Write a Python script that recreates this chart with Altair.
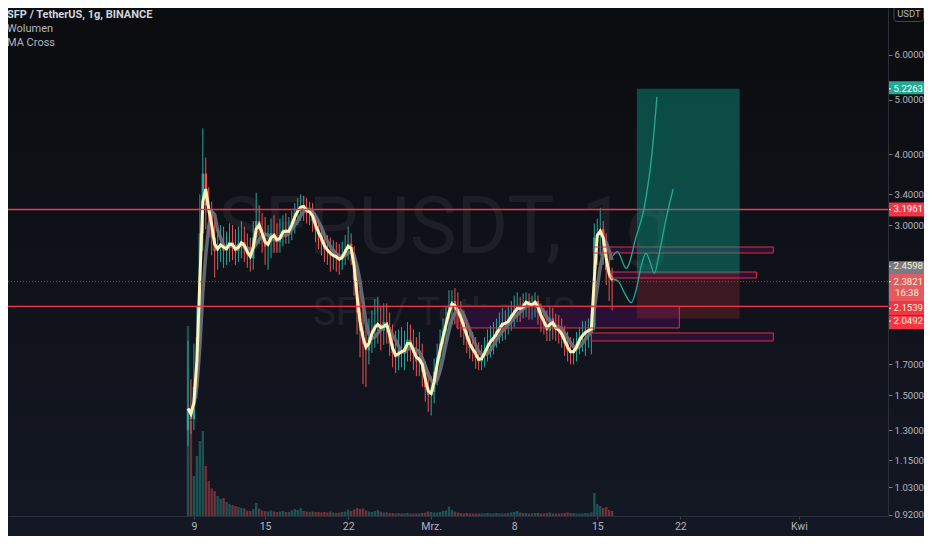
import altair as alt
import pandas as pd

# ---------------- data (6-hour candles, SFP/USDT, Binance) ----------------
candle_start = "2021-02-08 12:00"
first_open = 1.30
close = [1.42, 1.36, 1.55, 1.90, 2.90, 3.70, 3.25, 3.15, 2.85, 2.70,
         2.75, 2.78, 2.70, 2.75, 2.80, 2.74, 2.70, 2.78, 2.80, 2.72,
         2.66, 2.62, 2.85, 3.05, 2.95, 2.85, 2.75, 2.80, 2.90, 2.85,
         2.80, 2.88, 2.95, 2.90, 2.95, 3.05, 3.15, 3.20, 3.25, 3.22,
         3.15, 3.18, 3.05, 2.95, 2.88, 2.80, 2.72, 2.70, 2.65, 2.65,
         2.62, 2.60, 2.66, 2.72, 2.78, 2.68, 2.40, 2.10, 1.95, 1.85,
         1.80, 1.90, 1.95, 2.00, 2.00, 1.95, 2.02, 1.98, 1.85, 1.78,
         1.75, 1.80, 1.78, 1.82, 1.88, 1.82, 1.78, 1.72, 1.75, 1.65,
         1.55, 1.50, 1.52, 1.65, 1.75, 1.85, 1.95, 2.05, 2.15, 2.20,
         2.12, 2.10, 2.02, 1.95, 1.88, 1.82, 1.80, 1.75, 1.72, 1.76,
         1.80, 1.85, 1.88, 1.90, 1.95, 1.98, 2.02, 2.00, 2.05, 2.08,
         2.12, 2.15, 2.12, 2.18, 2.20, 2.15, 2.18, 2.20, 2.10, 2.05,
         2.00, 1.95, 2.05, 1.98, 1.96, 1.95, 1.90, 1.85, 1.80, 1.78,
         1.80, 1.85, 1.90, 1.92, 1.95, 1.95, 1.98, 2.85, 2.90, 2.95,
         2.75, 2.50, 2.42, 2.3821]
high = [1.87, 1.60, 1.85, 2.15, 3.40, 4.45, 3.95, 3.50, 3.30, 3.05,
        2.95, 3.00, 2.98, 2.92, 3.02, 3.00, 2.95, 2.98, 3.05, 2.98,
        2.90, 2.85, 3.05, 3.42, 3.25, 3.15, 3.10, 3.00, 3.08, 3.12,
        3.02, 3.08, 3.12, 3.15, 3.10, 3.18, 3.28, 3.35, 3.40, 3.38,
        3.35, 3.30, 3.28, 3.15, 3.05, 2.98, 2.92, 2.88, 2.85, 2.82,
        2.80, 2.78, 2.80, 2.88, 2.98, 2.90, 2.75, 2.50, 2.30, 2.20,
        2.00, 2.05, 2.12, 2.22, 2.24, 2.15, 2.18, 2.18, 2.10, 2.00,
        1.95, 1.96, 1.98, 1.95, 2.02, 2.00, 1.96, 1.90, 1.94, 1.85,
        1.72, 1.65, 1.62, 1.74, 1.85, 1.96, 2.05, 2.15, 2.30, 2.30,
        2.32, 2.28, 2.20, 2.12, 2.04, 1.98, 1.94, 1.90, 1.86, 1.84,
        1.90, 1.96, 1.99, 2.02, 2.05, 2.10, 2.14, 2.12, 2.16, 2.20,
        2.25, 2.28, 2.24, 2.27, 2.28, 2.27, 2.25, 2.28, 2.25, 2.18,
        2.14, 2.12, 2.15, 2.14, 2.09, 2.08, 2.05, 1.99, 1.94, 1.90,
        1.89, 1.94, 1.98, 2.03, 2.03, 2.05, 2.08, 3.02, 3.08, 3.22,
        3.05, 2.90, 2.65, 2.52]
low = [1.22, 1.28, 1.30, 1.48, 1.80, 2.70, 2.95, 2.85, 2.65, 2.42,
       2.50, 2.58, 2.52, 2.55, 2.58, 2.60, 2.55, 2.58, 2.62, 2.58,
       2.52, 2.48, 2.50, 2.75, 2.78, 2.68, 2.55, 2.50, 2.62, 2.68,
       2.68, 2.68, 2.75, 2.78, 2.78, 2.82, 2.90, 3.00, 3.05, 3.05,
       3.02, 3.00, 2.92, 2.80, 2.72, 2.65, 2.58, 2.55, 2.48, 2.50,
       2.48, 2.45, 2.50, 2.55, 2.60, 2.55, 2.25, 1.92, 1.75, 1.57,
       1.55, 1.70, 1.78, 1.82, 1.85, 1.80, 1.84, 1.85, 1.76, 1.68,
       1.64, 1.66, 1.68, 1.66, 1.72, 1.72, 1.66, 1.62, 1.62, 1.55,
       1.46, 1.40, 1.38, 1.45, 1.56, 1.66, 1.76, 1.86, 1.96, 2.00,
       2.00, 1.96, 1.90, 1.84, 1.78, 1.74, 1.72, 1.67, 1.66, 1.66,
       1.68, 1.72, 1.75, 1.77, 1.82, 1.85, 1.87, 1.88, 1.92, 1.95,
       1.98, 2.02, 2.02, 2.05, 2.06, 2.04, 2.04, 2.06, 2.00, 1.94,
       1.92, 1.87, 1.87, 1.88, 1.87, 1.85, 1.82, 1.76, 1.72, 1.70,
       1.70, 1.72, 1.77, 1.79, 1.76, 1.82, 1.77, 1.95, 2.55, 2.65,
       2.55, 2.35, 2.20, 2.12]
volume = [38, 19, 8, 12, 15, 17, 10, 7, 5.5, 5,
          4, 3.4, 3.6, 2.8, 2.4, 2.2, 2.0, 1.8, 1.6, 1.5,
          1.1, 1.0, 1.4, 2.6, 1.5, 1.1, 1.0, 0.9, 1.1, 0.9,
          0.8, 0.9, 1.0, 0.8, 0.8, 1.1, 1.4, 1.2, 1.6, 1.0,
          0.9, 0.8, 0.9, 0.8, 0.8, 0.7, 0.8, 0.7, 0.9, 0.7,
          0.6, 0.7, 0.8, 0.9, 1.3, 1.0, 1.3, 1.6, 1.4, 1.5,
          1.1, 0.9, 0.8, 1.0, 1.2, 0.9, 0.7, 0.7, 0.6, 0.6,
          0.5, 0.6, 0.5, 0.5, 0.6, 0.5, 0.5, 0.5, 0.5, 0.6,
          0.7, 0.9, 0.8, 0.7, 0.7, 0.8, 1.0, 1.1, 1.9, 1.2,
          0.9, 0.7, 0.6, 0.5, 0.6, 0.5, 0.5, 0.5, 0.5, 0.5,
          0.5, 0.6, 0.5, 0.5, 0.6, 0.5, 0.5, 0.5, 0.6, 0.7,
          0.8, 1.0, 0.7, 0.6, 0.6, 0.5, 0.5, 0.6, 0.6, 0.5,
          0.5, 0.6, 0.7, 0.5, 0.5, 0.5, 0.5, 0.6, 0.7, 0.6,
          0.6, 0.5, 0.5, 0.5, 0.6, 0.5, 0.7, 4.6, 2.4, 2.0,
          1.6, 1.8, 1.2, 1.0]

level_lines = [3.1961, 2.1539]
last_price = 2.3821
countdown = "16:38"

# long position tool
pos_t1, pos_t2 = "2021-03-18T08:00:00", "2021-03-27T00:00:00"
pos_entry, pos_target, pos_stop = 2.4598, 5.2263, 2.0492

# rectangles
rect_t1 = ["2021-03-14T16:00:00", "2021-03-16T04:00:00", "2021-03-03T04:00:00", "2021-03-14T12:00:00"]
rect_t2 = ["2021-03-29T20:00:00", "2021-03-28T10:00:00", "2021-03-21T22:00:00", "2021-03-29T20:00:00"]
rect_top = [2.743, 2.477, 2.1539, 1.932]
rect_bot = [2.677, 2.417, 1.972, 1.870]

# forecast paths
path1_t = ["2021-03-16T08:00:00", "2021-03-16T16:36:00", "2021-03-17T10:36:00", "2021-03-18T06:36:00",
           "2021-03-18T23:24:00", "2021-03-19T16:00:00", "2021-03-20T00:36:00"]
path1_p = [2.647, 2.691, 2.515, 2.861, 3.233, 4.129, 5.062]
path2_t = ["2021-03-16T08:00:00", "2021-03-16T18:00:00", "2021-03-17T07:24:00", "2021-03-17T20:36:00",
           "2021-03-18T06:36:00", "2021-03-18T16:36:00", "2021-03-19T02:36:00", "2021-03-19T09:24:00",
           "2021-03-19T19:24:00", "2021-03-20T05:24:00", "2021-03-20T18:36:00", "2021-03-21T09:24:00"]
path2_p = [2.405, 2.388, 2.271, 2.186, 2.302, 2.532, 2.673, 2.601, 2.464, 2.673, 3.062, 3.475]

price_ticks = [0.92, 1.03, 1.15, 1.3, 1.5, 1.7, 3.0, 3.4, 4.0, 5.0, 6.0]
legend_lines = ["SFP / TetherUS, 1g, BINANCE", "Wolumen", "MA Cross"]
watermark = ["SFPUSDT, 1g", "SFP / TetherUS"]

# ---------------- tables ----------------
times = pd.date_range(candle_start, periods=len(close), freq="6h")
candles = pd.DataFrame({"t": times, "open": [first_open] + close[:-1], "high": high,
                        "low": low, "close": close, "vol": volume})
rects = pd.DataFrame({"t1": rect_t1, "t2": rect_t2, "top": rect_top, "bot": rect_bot})
paths = pd.DataFrame({
    "path": ["a"] * len(path1_t) + ["b"] * len(path2_t),
    "t": path1_t + path2_t,
    "p": path1_p + path2_p,
    "o": list(range(len(path1_t))) + list(range(len(path2_t))),
})
pos = pd.DataFrame({"t1": [pos_t1, pos_t1], "t2": [pos_t2, pos_t2],
                    "a": [pos_entry, pos_stop], "b": [pos_target, pos_entry],
                    "kind": ["profit", "loss"]})

FONT = "Roboto"
UP, DOWN = "#26a69a", "#ef5350"
W, H, PR, PB = 880, 508, 36, 20

XSCALE = alt.Scale(domain=[alt.DateTime(year=2021, month=1, date=24, hours=18),
                           alt.DateTime(year=2021, month=4, date=8, hours=2)])
XAXIS = alt.Axis(
    values=[alt.DateTime(year=2021, month=2, date=9), alt.DateTime(year=2021, month=2, date=15),
            alt.DateTime(year=2021, month=2, date=22), alt.DateTime(year=2021, month=3, date=1),
            alt.DateTime(year=2021, month=3, date=8), alt.DateTime(year=2021, month=3, date=15),
            alt.DateTime(year=2021, month=3, date=22), alt.DateTime(year=2021, month=4, date=1)],
    labelExpr="date(datum.value) == 1 ? (month(datum.value) == 2 ? 'Mrz.' : 'Kwi') : '' + date(datum.value)",
    title=None, grid=False, domainColor="#2a2e39", tickColor="#434651", tickSize=3,
    labelColor="#b2b5be", labelFont=FONT, labelFontSize=10.5, labelPadding=2,
    labelFlush=False, labelOverlap=False, labelAlign="center", zindex=1)
YSCALE = alt.Scale(type="log", domain=[0.9162, 7.267], nice=False, zero=False)
YAXIS = alt.Axis(orient="right", values=price_ticks, format=".4f", title=None, grid=False,
                 domainColor="#2a2e39", tickColor="#787b86", tickSize=4, labelPadding=2,
                 labelColor="#b2b5be", labelFont=FONT, labelFontSize=9.6, zindex=1)


def X(f):
    return alt.X(f, type="temporal", scale=XSCALE, axis=XAXIS)


def Y(f):
    return alt.Y(f, type="quantitative", scale=YSCALE, axis=YAXIS)


one = pd.DataFrame({"k": [0]})
updown = alt.condition("datum.open <= datum.close", alt.value(UP), alt.value(DOWN))

# background gradient
bg = alt.Chart(one).mark_rect(
    color=alt.Gradient(gradient="linear",
                       stops=[alt.GradientStop(color="#0b0c0f", offset=0),
                              alt.GradientStop(color="#141824", offset=1)],
                       x1=0, x2=0, y1=0, y2=1)
).encode(x=alt.value(0), x2=alt.value(W + PR), y=alt.value(0), y2=alt.value(H + PB))

wm1 = alt.Chart(one).mark_text(text=watermark[0], font=FONT, fontSize=79, color="#ffffff",
                               opacity=0.06, align="center", baseline="alphabetic"
                               ).encode(x=alt.value(436), y=alt.value(245))
wm2 = alt.Chart(one).mark_text(text=watermark[1], font=FONT, fontSize=39, color="#ffffff",
                               opacity=0.06, align="center", baseline="alphabetic"
                               ).encode(x=alt.value(436), y=alt.value(317))

vol = alt.Chart(candles).mark_bar(width=2.4, opacity=0.42).encode(
    x=X("t"), y=alt.Y("vol:Q", scale=alt.Scale(domain=[0, H / 5.0]), axis=None), color=updown)

base = alt.Chart(candles)
wick = base.mark_rule(strokeWidth=1).encode(x=X("t"), y=Y("low"), y2=alt.Y2("high"), color=updown)
body = base.mark_bar(width=2.4).encode(x=X("t"), y=Y("open"), y2=alt.Y2("close"), color=updown)

ma = base.transform_window(ma_fast="mean(close)", frame=[-1, 0], sort=[alt.SortField("t")]
                           ).transform_window(ma_slow="mean(close)", frame=[-4, 0], sort=[alt.SortField("t")])
ma_slow = ma.mark_line(color="#6e717c", strokeWidth=3.5, opacity=0.9).encode(x=X("t"), y=Y("ma_slow"))
ma_fast = ma.mark_line(color="#fff1b8", strokeWidth=3).encode(x=X("t"), y=Y("ma_fast"))

hlines = alt.Chart(pd.DataFrame({"p": level_lines})).mark_rule(color="#f23645", strokeWidth=1.3).encode(y=Y("p"))
lastline = alt.Chart(pd.DataFrame({"p": [last_price]})).mark_rule(
    color="#f23645", strokeWidth=1, strokeDash=[1, 2], opacity=0.7).encode(y=Y("p"))

box_fill = alt.Chart(rects).mark_rect(color="#2a1034", opacity=1).encode(
    x=X("t1"), x2=alt.X2("t2"), y=Y("top"), y2=alt.Y2("bot"))
box_line = alt.Chart(rects).mark_rect(fillOpacity=0, stroke="#d8323d", strokeWidth=1).encode(
    x=X("t1"), x2=alt.X2("t2"), y=Y("top"), y2=alt.Y2("bot"))

posbox = alt.Chart(pos).mark_rect().encode(
    x=X("t1"), x2=alt.X2("t2"), y=Y("a"), y2=alt.Y2("b"),
    color=alt.Color("kind:N", scale=alt.Scale(domain=["profit", "loss"], range=["#089981", "#f23645"]), legend=None),
    opacity=alt.Opacity("kind:N", scale=alt.Scale(domain=["profit", "loss"], range=[0.45, 0.2]), legend=None))

proj = alt.Chart(paths).mark_line(color="#22ab94", strokeWidth=1.3, interpolate="monotone").encode(
    x=X("t"), y=Y("p"), detail="path:N", order="o:Q")

# price-scale labels: (value, text, box colour, text colour, box offset, box height, text offset)
labels = [
    (pos_target, "5.2263", "#22ab94", "#ffffff", -1, 13, 0),
    (level_lines[0], "3.1961", "#f23645", "#ffffff", 0, 14, 0),
    (pos_entry, "2.4598", "#787b86", "#f6efc6", -6, 13, -7.5),
    (last_price, "2.3821", "#e35a60", "#fff1dc", 6, 27, 0),
    (level_lines[1], "2.1539", "#f23645", "#fff1dc", 2, 14.5, 2),
    (pos_stop, "2.0492", "#f23645", "#fff1dc", 4, 13.5, 2.5),
]
label_layers = []
for val, txt, bcol, tcol, boff, bh, toff in labels:
    d = pd.DataFrame({"p": [val]})
    label_layers.append(alt.Chart(d).mark_tick(orient="horizontal", thickness=bh, size=PR, yOffset=boff,
                                               color=bcol, opacity=1).encode(x=alt.value(W + PR / 2), y=Y("p")))
    label_layers.append(alt.Chart(d).mark_rule(color=tcol, strokeWidth=1, yOffset=toff).encode(
        x=alt.value(W), x2=alt.value(W + 3), y=Y("p")))
    label_layers.append(alt.Chart(d).mark_text(text=txt, align="left", baseline="middle", dy=toff,
                                               font=FONT, fontSize=9.6, color=tcol).encode(
        x=alt.value(W + 5.5), y=Y("p")))
label_layers.append(alt.Chart(pd.DataFrame({"p": [last_price]})).mark_text(
    text=countdown, align="left", baseline="middle", dy=11.5, font=FONT, fontSize=9.6, color="#fff1dc"
).encode(x=alt.value(W + 7), y=Y("p")))

legend = []
for i, (txt, col, w) in enumerate(zip(legend_lines, ["#d1d4dc", "#b2b5be", "#b2b5be"], ["bold", "normal", "normal"])):
    legend.append(alt.Chart(one).mark_text(text=txt, align="left", baseline="middle", font=FONT,
                                           fontSize=11, fontWeight=w, color=col).encode(
        x=alt.value(-1), y=alt.value(6.5 + 14.3 * i)))

usdt_box = alt.Chart(one).mark_rect(fillOpacity=0, stroke="#434651", strokeWidth=1,
                                    cornerRadius=3).encode(x=alt.value(W + 6), x2=alt.value(W + PR - 0.5),
                                                           y=alt.value(-2), y2=alt.value(13.5))
usdt_txt = alt.Chart(one).mark_text(text="USDT", font=FONT, fontSize=9.5, color="#b2b5be",
                                    align="center", baseline="middle").encode(x=alt.value(W + 21), y=alt.value(6))

price = alt.layer(box_fill, wick, body, ma_slow, ma_fast, hlines, lastline, box_line, posbox, proj,
                  *label_layers)

chart = alt.layer(bg, wm1, wm2, vol, price, *legend, usdt_box, usdt_txt).resolve_scale(
    y="independent"
).properties(
    width=W, height=H, autosize=alt.AutoSizeParams(type="none"),
    padding={"left": 0, "top": 0, "right": PR, "bottom": PB}
).configure(background="#101218").configure_view(strokeWidth=0)

chart.save("out.html", embed_options={"renderer": "svg", "actions": False})
